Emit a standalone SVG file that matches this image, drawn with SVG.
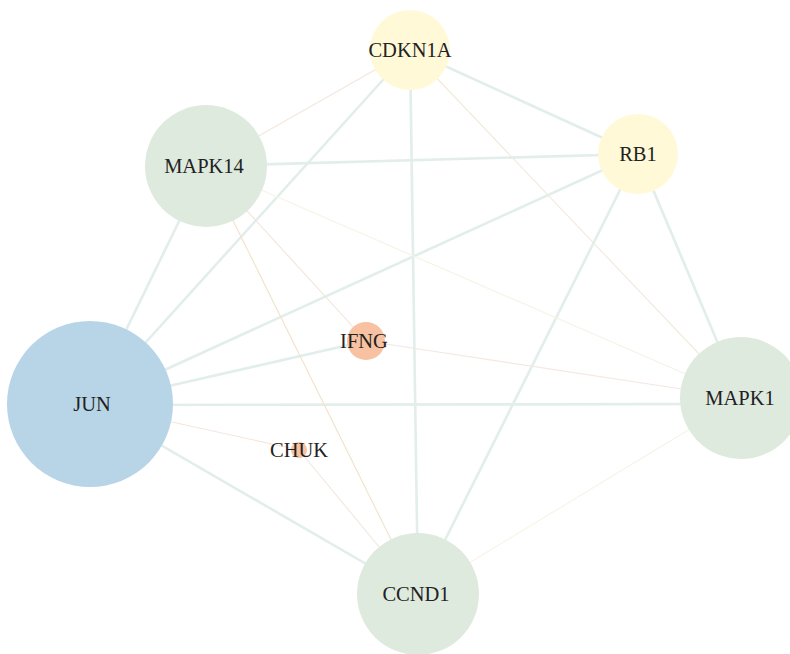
<svg xmlns="http://www.w3.org/2000/svg" width="790" height="654" viewBox="0 0 790 654">
<style>
.thick{stroke:#e2eeeb;stroke-width:2.6;fill:none}
.thin{stroke-width:1.1;fill:none}
text{font-family:'Liberation Serif','Times New Roman',serif;font-size:20.5px;fill:#222;text-anchor:middle}
.g{fill:#dfeadf}.y{fill:#fff9d8}.o{fill:#f8c1a1}.b{fill:#b8d5e8}
</style>
<rect width="790" height="654" fill="#fff"/>
<g id="edges">
<line class="thick" x1="410" y1="50" x2="638" y2="154"/>
<line class="thick" x1="410" y1="50" x2="90" y2="404"/>
<line class="thick" x1="410" y1="50" x2="418" y2="594"/>
<line class="thick" x1="206" y1="166" x2="638" y2="154"/>
<line class="thick" x1="206" y1="166" x2="90" y2="404"/>
<line class="thick" x1="638" y1="154" x2="90" y2="404"/>
<line class="thick" x1="638" y1="154" x2="741" y2="398"/>
<line class="thick" x1="638" y1="154" x2="418" y2="594"/>
<line class="thick" x1="90" y1="404" x2="366" y2="341"/>
<line class="thick" x1="90" y1="405" x2="741" y2="404"/>
<line class="thick" x1="90" y1="404" x2="418" y2="594"/>
<line class="thin" stroke="#f3e6dc" x1="410" y1="50" x2="206" y2="166"/>
<line class="thin" stroke="#f3e9dc" x1="410" y1="50" x2="741" y2="398"/>
<line class="thin" stroke="#f4f4e6" x1="206" y1="166" x2="741" y2="398"/>
<line class="thin" stroke="#f2e5d6" x1="206" y1="166" x2="366" y2="341"/>
<line class="thin" stroke="#f2e2c8" x1="206" y1="166" x2="418" y2="594"/>
<line class="thin" stroke="#f4e8e2" x1="366" y1="341" x2="741" y2="398"/>
<line class="thin" stroke="#f4e6de" x1="90" y1="404" x2="299" y2="450"/>
<line class="thin" stroke="#f4e6de" x1="299" y1="450" x2="418" y2="594"/>
<line class="thin" stroke="#f6f4e6" x1="741" y1="398" x2="418" y2="594"/>
</g>
<g id="CDKN1A"><circle class="y" cx="410" cy="50" r="40"/><text x="410" y="57">CDKN1A</text></g>
<g id="RB1"><circle class="y" cx="638" cy="154" r="40"/><text x="638" y="161">RB1</text></g>
<g id="MAPK14"><circle class="g" cx="206" cy="166" r="61"/><text x="204" y="173">MAPK14</text></g>
<g id="IFNG"><circle class="o" cx="366" cy="341" r="19"/><text x="364" y="348">IFNG</text></g>
<g id="JUN"><circle class="b" cx="90" cy="404" r="83"/><text x="92" y="411">JUN</text></g>
<g id="CHUK"><circle class="o" cx="299" cy="450" r="8"/><text x="299" y="457">CHUK</text></g>
<g id="MAPK1"><circle class="g" cx="741" cy="398" r="61"/><text x="740" y="405">MAPK1</text></g>
<g id="CCND1"><circle class="g" cx="418" cy="594" r="61"/><text x="416" y="601">CCND1</text></g>
</svg>
